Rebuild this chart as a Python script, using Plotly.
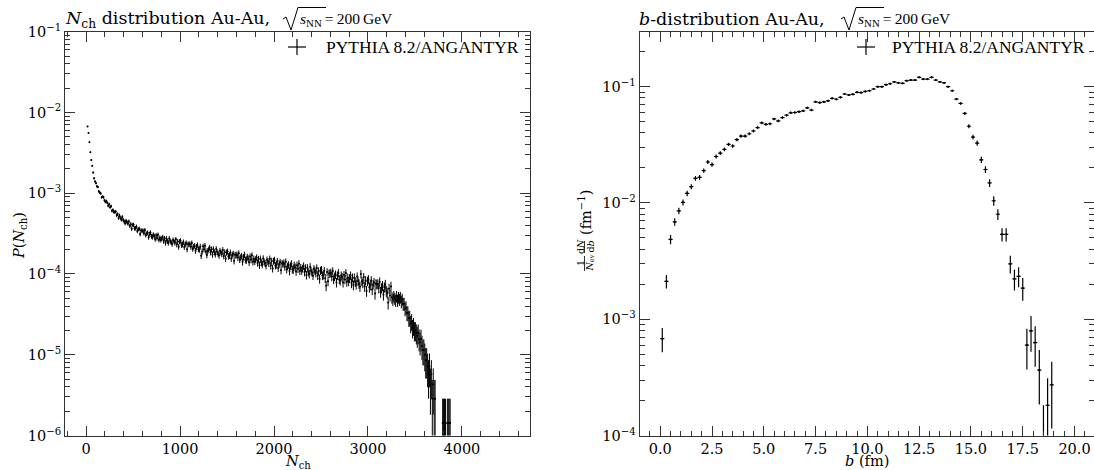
import numpy as np
import plotly.graph_objects as go

W, H = 1094, 470

# ---- left panel: N_ch histogram, raw counts per 10-wide bin (first centre 15)
N_EVENTS = 70000
NCH_BIN_WIDTH = 10
NCH_FIRST_CENTER = 15
NCH_COUNTS = [
    4700, 3900, 3000, 2250, 1800, 1530, 1260, 1070, 980,
    933, 851, 836, 738, 712, 695, 624, 633, 626, 571,
    548, 560, 534, 490, 512, 470, 483, 425, 434, 410,
    411, 414, 373, 386, 346, 372, 346, 330, 356, 327,
    313, 297, 319, 307, 294, 313, 275, 290, 255, 283,
    285, 257, 258, 270, 239, 251, 254, 219, 243, 239,
    241, 224, 244, 213, 222, 227, 200, 219, 227, 205,
    200, 215, 206, 189, 211, 195, 214, 186, 196, 185,
    193, 200, 179, 193, 170, 192, 178, 170, 193, 179,
    173, 165, 185, 179, 170, 188, 162, 177, 152, 176,
    180, 160, 162, 174, 151, 163, 169, 142, 164, 162,
    165, 152, 169, 144, 152, 157, 136, 152, 160, 142,
    140, 153, 118, 133, 154, 141, 157, 134, 120, 135,
    141, 148, 130, 142, 122, 142, 130, 123, 143, 131,
    125, 119, 136, 130, 124, 139, 117, 130, 109, 129,
    133, 116, 118, 129, 109, 120, 125, 102, 121, 119,
    122, 112, 126, 106, 112, 117, 99, 113, 121, 105,
    103, 114, 109, 98, 115, 105, 119, 99, 108, 100,
    106, 112, 96, 107, 90, 108, 97, 92, 109, 99,
    95, 89, 105, 100, 95, 108, 89, 101, 82, 101,
    104, 89, 91, 101, 83, 93, 98, 78, 95, 93,
    96, 86, 99, 80, 87, 91, 76, 88, 94, 80,
    79, 90, 85, 75, 90, 81, 94, 77, 84, 77,
    82, 88, 74, 83, 68, 84, 74, 70, 86, 76,
    73, 67, 81, 77, 72, 83, 67, 76, 61, 77,
    79, 67, 68, 77, 62, 50, 74, 57, 71, 71,
    73, 65, 76, 60, 65, 69, 55, 67, 72, 60,
    58, 67, 64, 55, 68, 60, 72, 56, 63, 57,
    62, 67, 54, 63, 51, 63, 56, 52, 65, 57,
    53, 49, 70, 57, 54, 64, 49, 58, 43, 57,
    60, 48, 51, 58, 45, 52, 55, 40, 53, 52,
    53, 47, 56, 42, 47, 50, 39, 48, 52, 43,
    41, 31, 46, 38, 49, 36, 34, 37, 35, 33,
    37, 33, 36, 34, 36, 32, 34, 30, 30, 26,
    27, 23, 23, 20, 20, 17, 18, 15, 16, 14,
    14, 13, 12, 13, 11, 10, 11, 9, 8, 8,
    7, 6, 6, 5, 4, 5, 3, 4, 2, 3,
    2, 2, 0, 0, 0, 0, 0, 0, 0, 1,
    1, 1, 1, 0, 1, 1, 1, 1,
]

# ---- right panel: impact-parameter distribution, 0.2 fm bins (first centre 0.1)
B_BIN_WIDTH = 0.2
B_FIRST_CENTER = 0.1
B_VALUES = [
    6.8e-4, 2.12e-3, 4.86e-3, 6.87e-3, 8.55e-3, 1.01e-2, 1.21e-2, 1.38e-2, 1.63e-2, 1.66e-2,
    1.90e-2, 2.25e-2, 2.14e-2, 2.51e-2, 2.68e-2, 2.89e-2, 3.19e-2, 3.09e-2, 3.50e-2, 3.76e-2,
    3.76e-2, 3.94e-2, 4.16e-2, 4.45e-2, 4.88e-2, 4.75e-2, 4.80e-2, 5.28e-2, 5.08e-2, 5.43e-2,
    5.69e-2, 5.96e-2, 6.00e-2, 6.10e-2, 6.20e-2, 6.58e-2, 6.30e-2, 7.41e-2, 7.30e-2, 7.40e-2,
    7.56e-2, 7.94e-2, 7.80e-2, 8.10e-2, 8.65e-2, 8.50e-2, 8.60e-2, 8.94e-2, 8.90e-2, 9.10e-2,
    9.23e-2, 9.55e-2, 0.100, 0.100, 0.104, 0.106, 0.110, 0.108, 0.107, 0.1127,
    0.114, 0.114, 0.1205, 0.116, 0.116, 0.1205, 0.114, 0.110, 0.108, 0.100,
    0.0923, 0.0783, 0.0718, 0.0589, 0.0457, 0.0369, 0.0327, 0.0235, 0.0194, 0.01486,
    0.01045, 8.0e-3, 5.37e-3, 5.37e-3, 2.99e-3, 2.22e-3, 2.34e-3, 1.85e-3, 6.0e-4, 7.95e-4,
    6.3e-4, 3.65e-4, 9.1e-5, 1.82e-4, 2.73e-4,
]
B_ERRORS = [
    1.6e-4, 2.8e-4, 4.5e-4, 5.0e-4, 5.5e-4, 6.0e-4, 6.6e-4, 7.0e-4, 7.6e-4, 7.7e-4,
    8.2e-4, 9.0e-4, 8.7e-4, 9.5e-4, 9.8e-4, 1.02e-3, 1.07e-3, 1.05e-3, 1.12e-3, 1.16e-3,
    1.16e-3, 1.19e-3, 1.22e-3, 1.26e-3, 1.32e-3, 1.30e-3, 1.31e-3, 1.37e-3, 1.35e-3, 1.39e-3,
    1.43e-3, 1.46e-3, 1.46e-3, 1.48e-3, 1.49e-3, 1.53e-3, 1.50e-3, 1.63e-3, 1.61e-3, 1.63e-3,
    1.64e-3, 1.68e-3, 1.67e-3, 1.70e-3, 1.76e-3, 1.74e-3, 1.75e-3, 1.79e-3, 1.78e-3, 1.80e-3,
    1.82e-3, 1.85e-3, 1.89e-3, 1.89e-3, 1.93e-3, 1.95e-3, 1.98e-3, 1.96e-3, 1.95e-3, 2.01e-3,
    2.02e-3, 2.02e-3, 2.07e-3, 2.04e-3, 2.04e-3, 2.07e-3, 2.02e-3, 1.98e-3, 1.96e-3, 1.89e-3,
    1.85e-3, 1.80e-3, 1.80e-3, 1.75e-3, 1.80e-3, 1.80e-3, 1.72e-3, 1.46e-3, 1.33e-3, 1.16e-3,
    9.7e-4, 8.5e-4, 7.0e-4, 7.0e-4, 5.2e-4, 4.5e-4, 4.6e-4, 4.1e-4, 2.3e-4, 2.7e-4,
    2.4e-4, 1.8e-4, 9.1e-5, 1.29e-4, 1.58e-4,
]

LEGEND_LABEL = "PYTHIA 8.2/ANGANTYR"

# histogram -> probability per unit N_ch
counts = np.array(NCH_COUNTS, dtype=float)
nch_x = NCH_FIRST_CENTER + NCH_BIN_WIDTH * np.arange(len(counts))
norm = N_EVENTS * NCH_BIN_WIDTH
nch_p = np.where(counts > 0, counts / norm, np.nan)
nch_err = np.sqrt(counts) / norm

b_x = B_FIRST_CENTER + B_BIN_WIDTH * np.arange(len(B_VALUES))


def fx(px):
    return px / W


def fy(py):
    return 1 - py / H


SERIF = "DejaVu Serif"
TIMES = "Liberation Serif"
INK = "#333333"

fig = go.Figure()

fig.add_trace(go.Scatter(
    x=nch_x, y=nch_p, mode="markers", xaxis="x", yaxis="y",
    marker=dict(size=2, color="black"),
    error_y=dict(type="data", array=nch_err, color="black", thickness=1, width=0),
    error_x=dict(type="constant", value=NCH_BIN_WIDTH / 2, color="black", thickness=1, width=0),
    showlegend=False,
))
fig.add_trace(go.Scatter(
    x=b_x, y=B_VALUES, mode="markers", xaxis="x2", yaxis="y2",
    marker=dict(size=2, color="black"),
    error_y=dict(type="data", array=B_ERRORS, color="black", thickness=1.2, width=0),
    error_x=dict(type="constant", value=B_BIN_WIDTH / 2, color="black", thickness=1.2, width=0),
    showlegend=False,
))
# dummy trace so the right-hand tick-only axis of the b panel is drawn
fig.add_trace(go.Scatter(x=[], y=[], xaxis="x2", yaxis="y3", showlegend=False))


def log_ticks(lo, hi):
    major = [10.0 ** k for k in range(lo, hi + 1)]
    text = ["10<sup>\u2212%d</sup>" % (-k) for k in range(lo, hi + 1)]
    minor = [m * 10.0 ** k for k in range(lo, hi + 1) for m in range(2, 10)]
    return major, text, minor


axis_common = dict(
    showline=True, linecolor=INK, linewidth=1, ticks="inside", ticklen=10,
    tickwidth=1.2, tickcolor=INK, showgrid=False, zeroline=False, automargin=False,
    tickfont=dict(family=SERIF, size=14.5, color="black"),
)

top, bottom = 31.7, 435.5
ydom = [fy(bottom), fy(top)]

l_major, l_text, l_minor = log_ticks(-6, -1)
r_major, r_text, r_minor = log_ticks(-4, -1)

fig.update_layout(
    width=W, height=H, autosize=False,
    margin=dict(l=0, r=0, t=0, b=0, pad=0, autoexpand=False),
    paper_bgcolor="white", plot_bgcolor="white",
    xaxis=dict(
        axis_common, domain=[fx(65), fx(530)], range=[-225, 4725], anchor="y",
        mirror="ticks", tick0=0, dtick=1000,
        minor=dict(dtick=200, tick0=0, ticks="inside", ticklen=5, tickcolor=INK, tickwidth=1),
    ),
    yaxis=dict(
        axis_common, domain=ydom, type="log", range=[-6, -1], anchor="x",
        mirror="ticks", tickmode="array", tickvals=l_major, ticktext=l_text,
        minor=dict(tickmode="array", tickvals=l_minor, ticks="inside", ticklen=5,
                   tickcolor=INK, tickwidth=1),
    ),
    xaxis2=dict(
        axis_common, domain=[fx(639.5), 1.0], range=[-1, 20.94], anchor="y2",
        mirror="ticks", tick0=0, dtick=2.5, tickformat=".1f",
        minor=dict(dtick=0.5, tick0=0, ticks="inside", ticklen=5, tickcolor=INK, tickwidth=1),
    ),
    yaxis2=dict(
        axis_common, domain=ydom, type="log", range=[-4, -0.527], anchor="x2",
        tickmode="array", tickvals=r_major, ticktext=r_text,
        minor=dict(tickmode="array", tickvals=r_minor, ticks="inside", ticklen=5,
                   tickcolor=INK, tickwidth=1),
    ),
    yaxis3=dict(
        overlaying="y2", side="right", anchor="x2", type="log", range=[-4, -0.527],
        showline=False, showgrid=False, zeroline=False, showticklabels=False,
        automargin=False,
        ticks="inside", ticklen=10, tickwidth=1.2, tickcolor=INK,
        tickmode="array", tickvals=r_major,
        minor=dict(tickmode="array", tickvals=r_minor, ticks="inside", ticklen=5,
                   tickcolor=INK, tickwidth=1),
    ),
)


def note(text, x, y, size, family=SERIF, xanchor="left", angle=0):
    fig.add_annotation(
        text=text, x=fx(x), y=fy(y), xref="paper", yref="paper",
        xanchor=xanchor, yanchor="middle", showarrow=False, textangle=angle,
        font=dict(family=family, size=size, color="black"), borderpad=0,
    )


def line(x0, y0, x1, y1, width=1.2):
    fig.add_shape(type="line", xref="paper", yref="paper",
                  x0=fx(x0), y0=fy(y0), x1=fx(x1), y1=fy(y1),
                  line=dict(color="black", width=width))


def radical(x0, x_end, y_top):
    pts = [(x0, 19), (x0 + 3, 17), (x0 + 8, 30), (x0 + 15, y_top), (x_end, y_top)]
    path = "M " + " L ".join("%.5f,%.5f" % (fx(a), fy(b)) for a, b in pts)
    fig.add_shape(type="path", xref="paper", yref="paper", path=path,
                  line=dict(color="black", width=1))


ENERGY = "<i>s</i><sub>NN</sub>\u2009=\u2009200\u2009GeV"

# titles
note("<i>N</i><sub>ch</sub> distribution Au-Au,", 64, 19, 17.5)
radical(283, 326, 7.5)
note(ENERGY, 299, 20, 15.5, family=TIMES)

note("<i>b</i>-distribution Au-Au,", 638, 19, 17.5)
radical(841, 884, 7.5)
note(ENERGY, 857, 20, 15.5, family=TIMES)

# legends
for cx, tx in [(297, 325), (866, 891)]:
    line(cx - 9, 47, cx + 9, 47)
    line(cx, 39, cx, 55)
    note(LEGEND_LABEL, tx, 47, 17.5, family=TIMES)

# axis titles
note("<i>N</i><sub>ch</sub>", 297.5, 462, 14.5, xanchor="center")
note("<i>P</i>(<i>N</i><sub>ch</sub>)", 20, 236, 14.5, xanchor="center", angle=-90)
note("<i>b</i> (fm)", 867, 461, 14.5, xanchor="center")

# right y title: 1/N_ev dN/db (fm^-1)
note("1", 580, 263, 9.5, xanchor="center", angle=-90)
note("<i>N</i><sub>ev</sub>", 589.5, 263, 9.5, xanchor="center", angle=-90)
line(584.5, 256, 584.5, 271, width=0.8)
note("d<i>N</i>", 580, 247, 9.5, xanchor="center", angle=-90)
note("d<i>b</i>", 589.5, 247, 9.5, xanchor="center", angle=-90)
line(584.5, 241, 584.5, 253, width=0.8)
note("(fm<sup>\u22121</sup>)", 585, 213, 14.5, xanchor="center", angle=-90)

# drop the default 8px body margin so the figure sits at the page origin
fig.write_html(
    "out.html",
    config={"displayModeBar": False},
    post_script="document.body.style.margin='0px';",
)
